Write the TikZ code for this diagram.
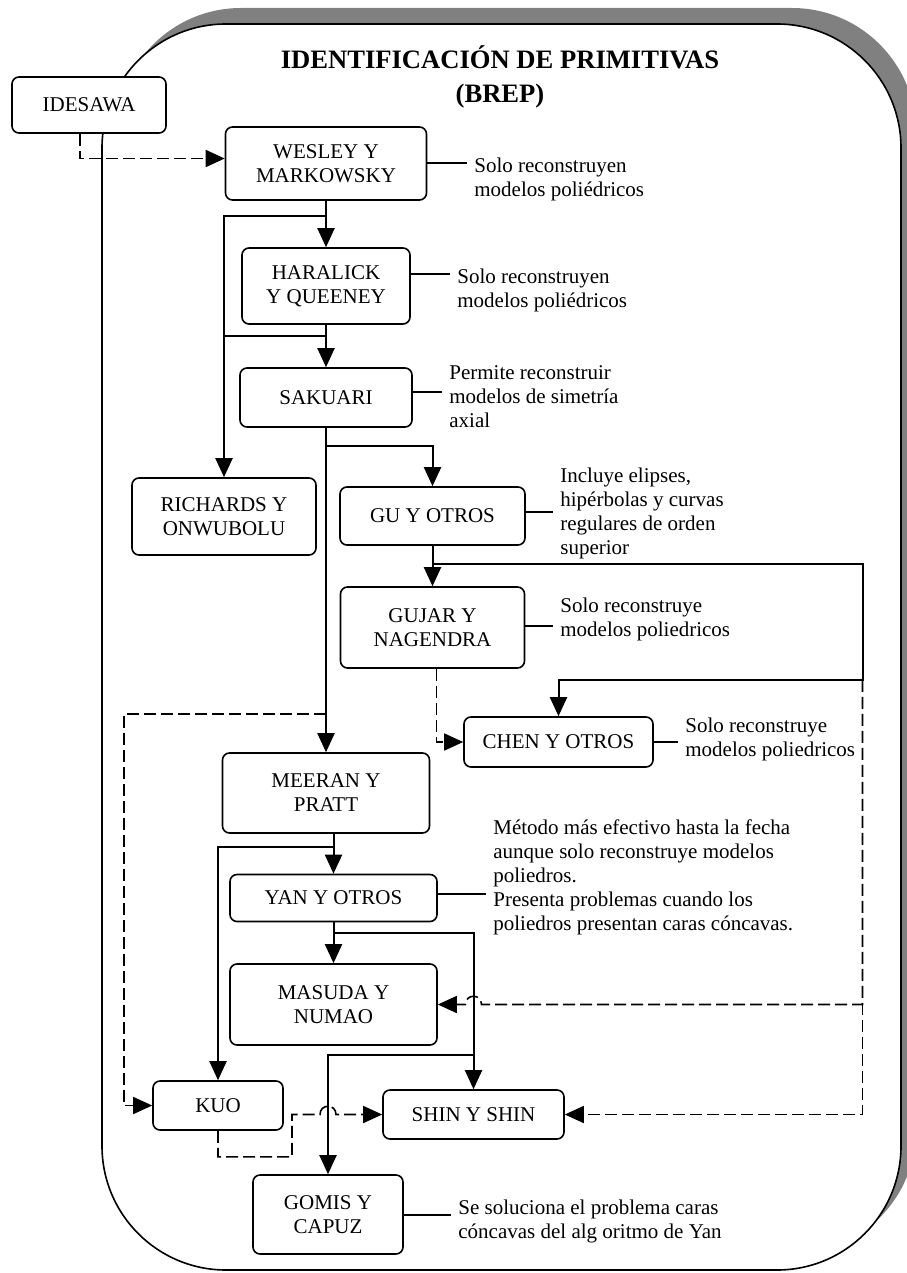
\documentclass[tikz,border=0pt]{standalone}
\usepackage{fontspec}
\setmainfont{Liberation Serif}
\usetikzlibrary{arrows.meta}
\definecolor{shadowgray}{rgb}{0.5,0.5,0.5}
\tikzset{
  box/.style 2 args={draw, fill=white, rounded corners=3.5pt, line width=0.8pt, align=center, inner sep=0pt, minimum width=#1, minimum height=#2},
  note/.style={anchor=north west, align=left, inner xsep=3.5pt, inner ysep=0pt},
  line/.style={line width=1pt},
  flow/.style={->, line width=1pt},
  dflow/.style={->, line width=0.8pt, dash pattern=on 6pt off 2.5pt},
  >={Triangle[length=9.5pt,width=8.5pt]}
}

\begin{document}
\begin{tikzpicture}[x=0.5pt, y=-0.5pt, font=\fontsize{10.5pt}{12pt}\selectfont]
\useasboundingbox (0,0) rectangle (906,1273);
\fill [shadowgray, rounded corners=62pt] (117,8) rectangle (916,1254);
\draw [fill=white, line width=0.8pt, rounded corners=62pt] (102,24) rectangle (901,1270);
\node [font=\fontsize{13.3pt}{17pt}\selectfont\bfseries, align=center] (title) at (500,77) {IDENTIFICACIÓN DE PRIMITIVAS\\(BREP)};

\node [box={77pt}{28pt}] (IDESAWA) at (89,105) {IDESAWA};
\node [box={100.5pt}{36.5pt}] (WESLEY) at (326,163.5) {WESLEY Y\\MARKOWSKY};
\node [box={84pt}{38pt}] (HARALICK) at (326,286) {HARALICK\\Y QUEENEY};
\node [box={86pt}{29.5pt}] (SAKUARI) at (326,397.5) {SAKUARI};
\node [box={92pt}{38.5pt}] (RICHARDS) at (224,516.5) {RICHARDS Y\\ONWUBOLU};
\node [box={92.5pt}{29pt}] (GU) at (432.5,516) {GU Y OTROS};
\node [box={92pt}{40.5pt}] (GUJAR) at (432.5,627.5) {GUJAR Y\\NAGENDRA};
\node [box={94.5pt}{25pt}] (CHEN) at (558.5,742) {CHEN Y OTROS};
\node [box={103.5pt}{40pt}] (MEERAN) at (326,793) {MEERAN Y\\PRATT};
\node [box={103.5pt}{23.5pt}] (YAN) at (333.5,898) {YAN Y OTROS};
\node [box={103.5pt}{40.5pt}] (MASUDA) at (333.5,1004.5) {MASUDA Y\\NUMAO};
\node [box={65pt}{24.5pt}] (KUO) at (218,1105.5) {KUO};
\node [box={90.5pt}{24.5pt}] (SHIN) at (473.5,1114.5) {SHIN Y SHIN};
\node [box={75pt}{39.5pt}] (GOMIS) at (328,1214.5) {GOMIS Y\\CAPUZ};

\node [note] (WESLEYn) at (467,157.5) {Solo reconstruyen\\modelos poliédricos};
\node [note] (HARALICKn) at (450,268.5) {Solo reconstruyen\\modelos poliédricos};
\node [note] (SAKUARIn) at (442,365.5) {Permite reconstruir\\modelos de simetría\\axial};
\node [note] (GUn) at (553,467.5) {Incluye elipses,\\hipérbolas y curvas\\regulares de orden\\superior};
\node [note] (GUJARn) at (553,597.5) {Solo reconstruye\\modelos poliedricos};
\node [note] (CHENn) at (678,717.5) {Solo reconstruye\\modelos poliedricos};
\node [note] (YANn) at (486,819.5) {Método más efectivo hasta la fecha\\aunque solo reconstruye modelos\\poliedros.\\Presenta problemas cuando los\\poliedros presentan caras cóncavas.};
\node [note] (GOMISn) at (451,1199.5) {Se soluciona el problema caras\\cóncavas del alg oritmo de Yan};

\foreach \b/\s in {WESLEY/0pt, HARALICK/6pt, SAKUARI/3pt, GU/2pt, GUJAR/1pt, CHEN/0pt, YAN/2pt, GOMIS/0pt}
  \draw [line] ([yshift=\s]\b.east) -- ([yshift=\s]\b.east -| \b n.west);

\draw [flow] (WESLEY.south) -- (HARALICK.north);
\draw [flow] (WESLEY.south) ++(0,15) -| (RICHARDS.north);
\draw [line] (HARALICK.south) ++(0,11) coordinate (hr) -- (hr -| RICHARDS.north);
\draw [flow] (HARALICK.south) -- (SAKUARI.north);
\draw [flow] (SAKUARI.south) -- (MEERAN.north);
\draw [flow] (SAKUARI.south) ++(0,18) -| (GU.north);
\draw [flow] (GU.south) -- (GUJAR.north);
\draw [flow] (GU.south) ++(0,18) -| ++(430,116) coordinate (gc) -| (CHEN.north);
\draw [flow] (YAN.north |- MEERAN.south) -- (YAN.north);
\draw [flow] (YAN.north |- MEERAN.south) ++(0,13) -| (KUO.north);
\draw [flow] (YAN.south) -- (MASUDA.north);
\draw [flow] (YAN.south) ++(0,11) -| (SHIN.north);
\draw [flow] (SHIN.north) ++(0,-34) -| (GOMIS.north);

\draw [dflow] ([xshift=-4.5pt]IDESAWA.south) |- ([yshift=2.5pt]WESLEY.west);
\draw [dflow] (SAKUARI.south) ++(0,286) -- ++(-202,0) |- (KUO.west);
\draw [dflow] ([xshift=2pt]GUJAR.south) |- (CHEN.west);
\coordinate (hopA) at (SHIN.north |- MASUDA.east);
\draw [dflow] (gc) |- ([xshift=4pt]hopA) .. controls +(0,-11) and +(0,-11) .. ([xshift=-4pt]hopA) -- (MASUDA.east);
\draw [dflow] (gc) |- (SHIN.east);
\coordinate (hopB) at (GOMIS.north |- SHIN.west);
\draw [dflow] (KUO.south) -- ++(0,26) -| ([xshift=-18pt]hopB) -- ([xshift=-4pt]hopB) .. controls +(0,-11) and +(0,-11) .. ([xshift=4pt]hopB) -- (SHIN.west);
\end{tikzpicture}
\end{document}
